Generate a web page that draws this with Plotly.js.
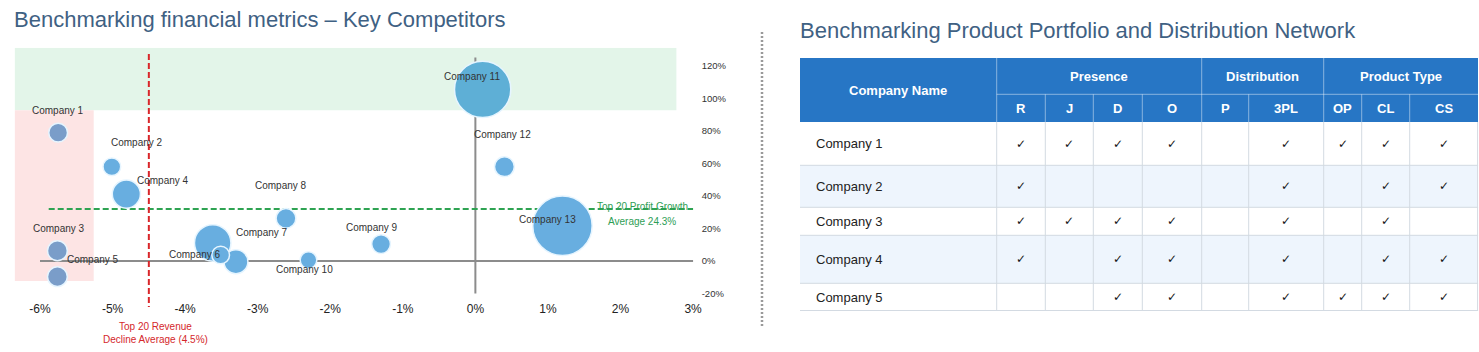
<!DOCTYPE html>
<html><head><meta charset="utf-8">
<script src="https://cdn.plot.ly/plotly-3.0.1.min.js"></script>
<style>html,body{margin:0;padding:0;background:#fff;overflow:hidden}#chart{width:1479px;height:352px}</style>
</head><body><div id="chart"></div>
<script>
// ================= DATA =================
// Bubble chart (x: revenue growth %, y: profit growth %, bubble: market size)
const companies     = ["Company 1","Company 2","Company 3","Company 4","Company 5","","Company 7","Company 6","Company 8","Company 9","Company 10","Company 11","Company 12","Company 13"];
const revenueGrowth = [-5.75,-5.01,-5.76,-4.81,-5.76,-3.62,-3.30,-3.51,-2.61,-1.30,-2.30,0.10,0.40,1.20];
const profitGrowth  = [78.8,57.9,6.3,41.1,-9.6,11.1,-0.4,3.7,26.2,10.4,0.6,105.4,57.9,21.7];
const marketSize    = [81,72,90,182,90,306,132,72,90,81,64,729,90,812];
const revenueAvg = -4.5;          // Top 20 revenue decline average
const profitAvgLabel = 24.3;      // Top 20 profit growth average (label)
const profitAvgLine = 32;         // level where the dashed line is drawn
const xTicks = [-6,-5,-4,-3,-2,-1,0,1,2,3];
const yTicks = [-20,0,20,40,60,80,100,120];

// Table
const tableCompanies = ["Company 1","Company 2","Company 3","Company 4","Company 5"];
const groupHeaders = ["Presence","Distribution","Product Type"];
const groupSpans   = [4,2,3];
const subHeaders   = ["R","J","D","O","P","3PL","OP","CL","CS"];
const offerings = [
  [1,1,1,1,0,1,1,1,1],
  [1,0,0,0,0,1,0,1,1],
  [1,1,1,1,0,1,0,1,0],
  [1,0,1,1,0,1,0,1,1],
  [0,0,1,1,0,1,1,1,1]
];

// ================= LAYOUT / STYLE =================
const W = 1479, H = 352;
const FONT = "Liberation Sans, Arial, sans-serif";
const py = p => (H - p) / H;   // pixel row -> paper y
const px = p => p / W;         // pixel col -> paper x

// bubble label offsets [dx, dy] in px (dy positive = up)
const labelShift = [[0,22],[25,24],[2,22],[37,14],[36,17],[0,0],[26,29],[-26,0],[-5,33],[-9.5,17],[-4,-9],[-11,13],[-2,32],[-15,6]];
const bubbleColors = companies.map((c,i) => ([0,2,4].includes(i) ? "#7a9dc9" : (c==="Company 11" ? "#5eafd6" : "#68aee0")));

// table geometry (table units)
const colWidths  = [196.7,48.6,48,49,59.4,47,75,38,48,68.6];
const rowHeights = [36.3,27.7,43.3,42,28,48,27.7];
const cum = a => a.reduce((acc,v)=>{acc.push(acc[acc.length-1]+v);return acc;},[0]);
const colEdges = cum(colWidths), rowEdges = cum(rowHeights);
const colMid = i => (colEdges[i]+colEdges[i+1])/2;
const rowMid = i => (rowEdges[i]+rowEdges[i+1])/2;
const TW = colEdges[colEdges.length-1], TH = rowEdges[rowEdges.length-1];

// ================= TRACES =================
const bubbles = {
  type:"scatter", mode:"markers", x:revenueGrowth, y:profitGrowth, text:companies,
  xaxis:"x", yaxis:"y", hoverinfo:"text",
  marker:{size:marketSize, sizemode:"area", sizeref:0.46, color:bubbleColors, opacity:1,
          line:{color:"#e6f5ff", width:1.5}},
  cliponaxis:false
};

const z = rowHeights.map((h,r) => colWidths.map(() => r<2 ? 0 : ((r-2)%2===0 ? 1 : 2)));
const tableFill = {
  type:"heatmap", x:colEdges, y:rowEdges, z:z, xaxis:"x2", yaxis:"y2",
  zmin:0, zmax:2, showscale:false, hoverinfo:"skip",
  colorscale:[[0,"#2776c5"],[0.5,"#ffffff"],[1,"#eef5fd"]]
};

// ================= SHAPES =================
const shapes = [
  // green band (top)
  {type:"rect", xref:"x", yref:"y", x0:-6.35, x1:2.77, y0:92.6, y1:131, fillcolor:"#e3f5e9", line:{width:0}, layer:"below"},
  // pink band (left)
  {type:"rect", xref:"x", yref:"y", x0:-6.35, x1:-5.26, y0:-12.3, y1:92.6, fillcolor:"#fde4e4", line:{width:0}, layer:"below"},
  // zero axes
  {type:"line", xref:"x", yref:"y", x0:xTicks[0], x1:xTicks[xTicks.length-1], y0:0, y1:0, line:{color:"#8c8c8c", width:2}, layer:"below"},
  {type:"line", xref:"x", yref:"y", x0:0, x1:0, y0:yTicks[0], y1:125, line:{color:"#8c8c8c", width:2}, layer:"below"},
  // profit average line
  {type:"line", xref:"x", yref:"y", x0:-5.88, x1:3, y0:profitAvgLine, y1:profitAvgLine, line:{color:"#2ea352", width:2, dash:"6px,3px"}, layer:"below"},
  // revenue average line
  {type:"line", xref:"x", yref:"paper", x0:revenueAvg, x1:revenueAvg, y0:py(54), y1:py(307), line:{color:"#d9262a", width:2, dash:"6px,3px"}, layer:"above"},
  // separator
  {type:"line", xref:"paper", yref:"paper", x0:px(762), x1:px(762), y0:py(32), y1:py(328), line:{color:"#9a9a9a", width:2.5, dash:"2px,2px"}}
];

// table grid lines
const hdrLine = {color:"rgba(255,255,255,0.45)", width:1};
const bodyLine = {color:"#d3dae2", width:1};
shapes.push({type:"line", xref:"x2", yref:"y2", x0:colEdges[1], x1:TW, y0:rowEdges[1], y1:rowEdges[1], line:hdrLine});
let gEdge = 1; const groupEdges = [1];
groupSpans.forEach(s => { gEdge += s; groupEdges.push(gEdge); });
for (let c=1; c<colEdges.length-1; c++) {
  const top = groupEdges.includes(c) ? 0 : rowEdges[1];
  shapes.push({type:"line", xref:"x2", yref:"y2", x0:colEdges[c], x1:colEdges[c], y0:top, y1:rowEdges[2], line:hdrLine});
  shapes.push({type:"line", xref:"x2", yref:"y2", x0:colEdges[c], x1:colEdges[c], y0:rowEdges[2], y1:TH, line:bodyLine});
}
shapes.push({type:"line", xref:"x2", yref:"y2", x0:TW-0.7, x1:TW-0.7, y0:rowEdges[2], y1:TH, line:bodyLine});
for (let r=3; r<rowEdges.length; r++) {
  const yy = r===rowEdges.length-1 ? rowEdges[r]-0.5 : rowEdges[r];
  shapes.push({type:"line", xref:"x2", yref:"y2", x0:0, x1:TW, y0:yy, y1:yy, line:bodyLine});
}

// ================= ANNOTATIONS =================
const ann = [];
// titles
ann.push({xref:"paper", yref:"paper", x:px(12), y:py(20), xanchor:"left", yanchor:"middle", showarrow:false,
  text:"Benchmarking financial metrics – Key Competitors", font:{family:FONT, size:22, color:"#3f6183"}});
ann.push({xref:"paper", yref:"paper", x:px(798), y:py(31), xanchor:"left", yanchor:"middle", showarrow:false,
  text:"Benchmarking Product Portfolio and Distribution Network", font:{family:FONT, size:22, color:"#3f6183"}});
// bubble labels
companies.forEach((c,i) => {
  if (!c) return;
  ann.push({xref:"x", yref:"y", x:revenueGrowth[i], y:profitGrowth[i], xshift:labelShift[i][0], yshift:labelShift[i][1],
    text:c, showarrow:false, xanchor:"center", yanchor:"middle", font:{family:FONT, size:10, color:"#333"}});
});
// average labels
ann.push({xref:"x", yref:"y", x:2.3, y:profitAvgLine, yshift:2.6, showarrow:false, text:"Top 20 Profit Growth",
  font:{family:FONT, size:10, color:"#2e9e55"}});
ann.push({xref:"x", yref:"y", x:2.3, y:profitAvgLine, yshift:-12.7, showarrow:false, text:"Average " + profitAvgLabel + "%",
  font:{family:FONT, size:10, color:"#2e9e55"}});
ann.push({xref:"x", yref:"paper", x:revenueAvg, xshift:6.5, y:py(332.5), yanchor:"middle", showarrow:false,
  text:"Top 20 Revenue<br>Decline Average (" + Math.abs(revenueAvg) + "%)", font:{family:FONT, size:10, color:"#d4272b"}});

// table text
const hdrFont = {family:FONT, size:13, color:"#ffffff"};
ann.push({xref:"x2", yref:"y2", x:colMid(0), y:rowEdges[2]/2, showarrow:false, text:"<b>Company Name</b>", font:hdrFont});
groupHeaders.forEach((g,i) => {
  const x0 = colEdges[groupEdges[i]], x1 = colEdges[groupEdges[i+1]];
  ann.push({xref:"x2", yref:"y2", x:(x0+x1)/2, y:rowMid(0), showarrow:false, text:"<b>"+g+"</b>", font:hdrFont});
});
subHeaders.forEach((s,i) => {
  ann.push({xref:"x2", yref:"y2", x:colMid(i+1), y:rowMid(1), showarrow:false, text:"<b>"+s+"</b>", font:hdrFont});
});
tableCompanies.forEach((c,r) => {
  ann.push({xref:"x2", yref:"y2", x:14, y:rowMid(r+2), xanchor:"left", showarrow:false, text:c,
    font:{family:FONT, size:13, color:"#222"}});
  offerings[r].forEach((v,j) => {
    if (v) ann.push({xref:"x2", yref:"y2", x:colMid(j+1), y:rowMid(r+2), showarrow:false, text:"✓",
      font:{family:"DejaVu Sans, sans-serif", size:12, color:"#151515"}});
  });
});

// ================= LAYOUT =================
const layout = {
  width:W, height:H, margin:{l:0,r:0,t:0,b:0}, paper_bgcolor:"#ffffff", plot_bgcolor:"rgba(0,0,0,0)",
  showlegend:false, font:{family:FONT},
  xaxis:{domain:[px(14.6), px(696.7)], range:[-6.35,3.05], tickvals:xTicks, ticktext:xTicks.map(v=>v+"%"),
    showgrid:false, zeroline:false, showline:false, ticks:"", tickfont:{family:FONT, size:12, color:"#222"}, fixedrange:true,
    ticklabelstandoff:6},
  yaxis:{domain:[py(294.4), py(47.7)], range:[-20.5,131], side:"right", tickvals:yTicks, ticktext:yTicks.map(v=>v+"%"),
    showgrid:false, zeroline:false, showline:false, ticks:"", tickfont:{family:FONT, size:9.5, color:"#333"}, fixedrange:true,
    ticklabelstandoff:4},
  xaxis2:{domain:[px(800), px(1478.3)], range:[0,TW], visible:false, fixedrange:true},
  yaxis2:{domain:[py(311), py(58)], range:[TH,0], visible:false, fixedrange:true},
  shapes:shapes, annotations:ann
};

Plotly.newPlot("chart", [tableFill, bubbles], layout, {displayModeBar:false, staticPlot:true});
</script></body></html>
